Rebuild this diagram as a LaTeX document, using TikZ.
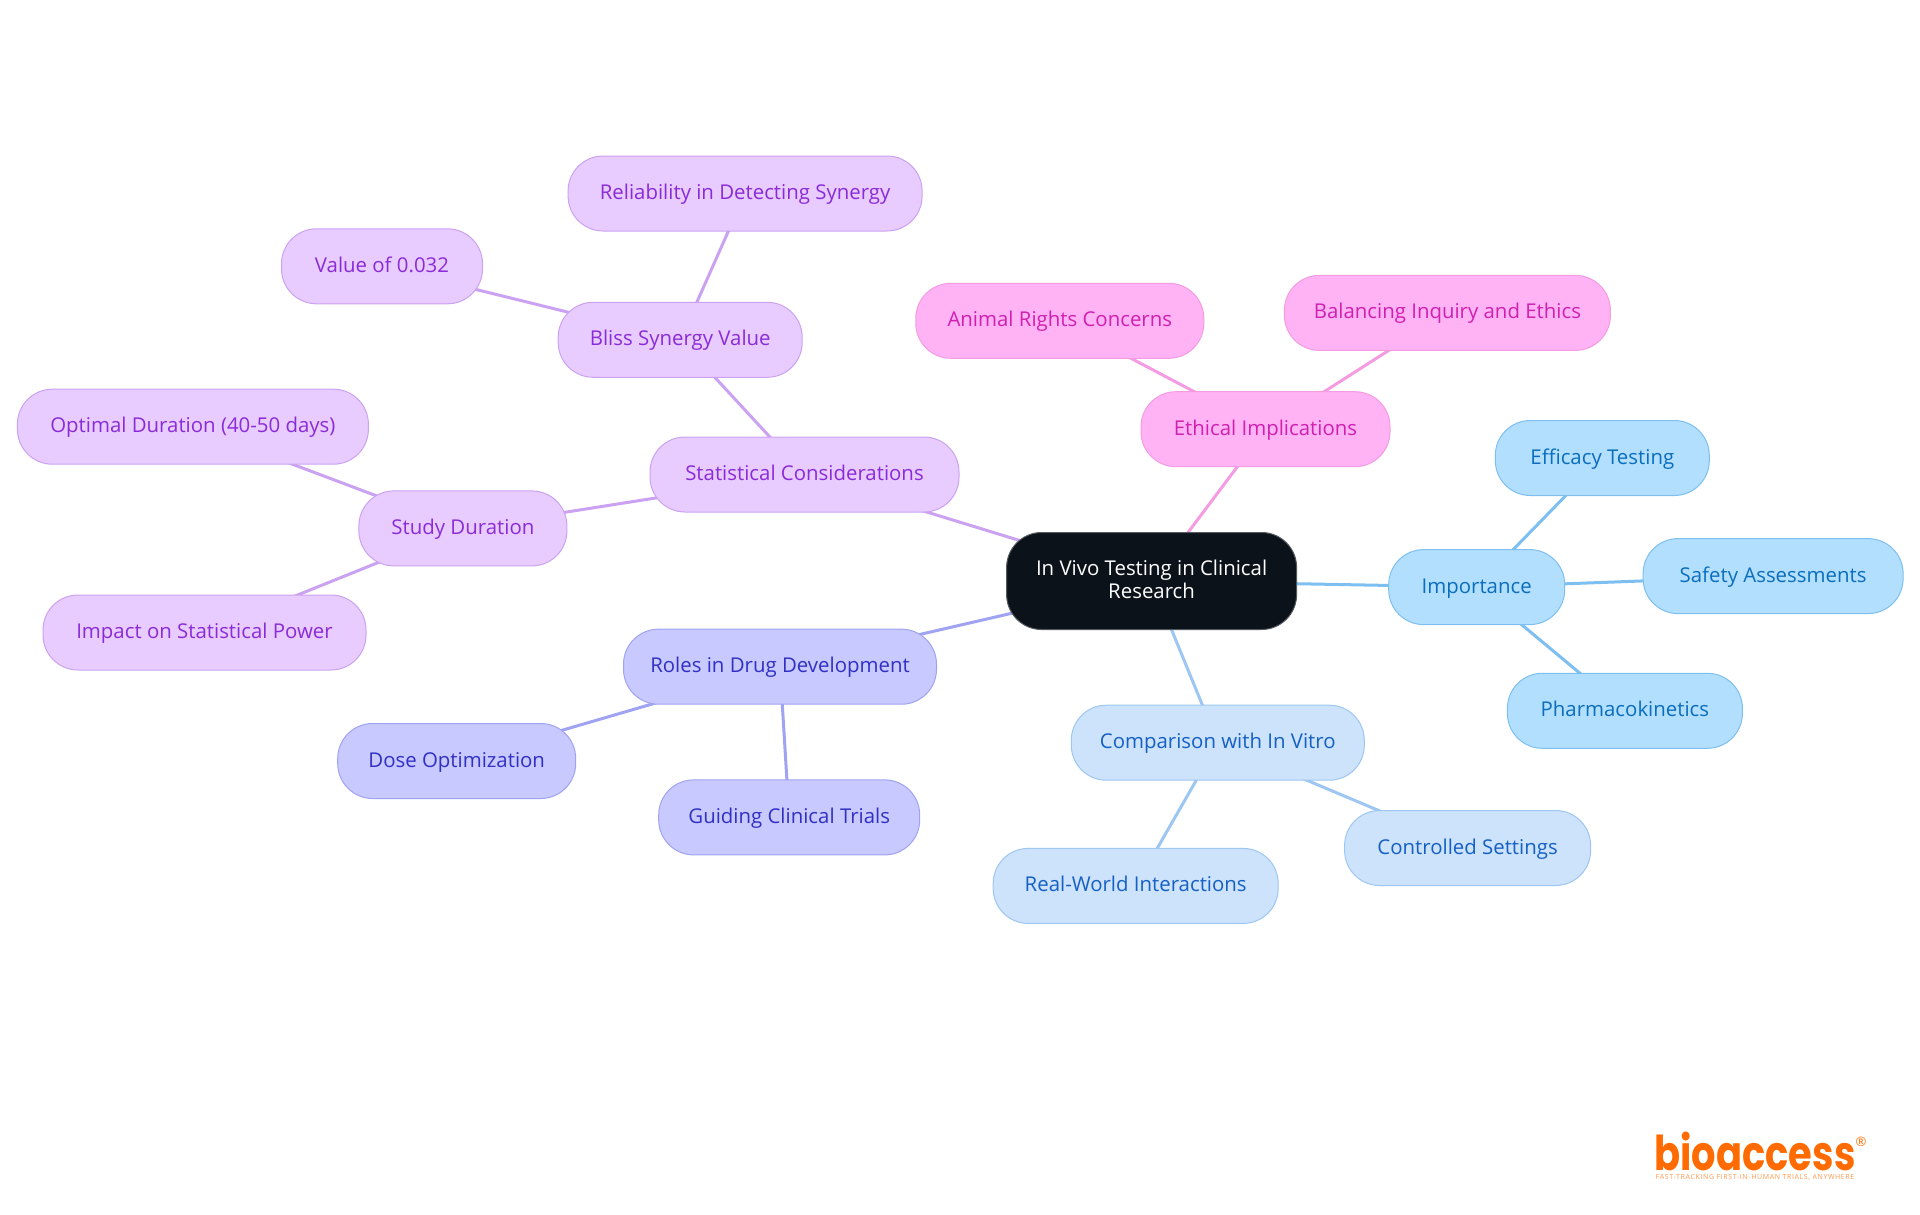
\documentclass[tikz,border=0pt]{standalone}
\usepackage{fontspec}
\setmainfont{Open Sans}
\newfontfamily\logofont{Poppins}[BoldFont={Poppins Bold}]
\usetikzlibrary{backgrounds}
\definecolor{rootfill}{HTML}{0B1219}
\definecolor{impfill}{HTML}{B3DFFF}
\definecolor{impline}{HTML}{7DBFF0}
\definecolor{imptext}{HTML}{0A6EBD}
\definecolor{cmpfill}{HTML}{CDE3FC}
\definecolor{cmpline}{HTML}{9DC6F2}
\definecolor{cmptext}{HTML}{1560C4}
\definecolor{rolfill}{HTML}{C8CAFF}
\definecolor{rolline}{HTML}{A0A2F2}
\definecolor{roltext}{HTML}{3030C4}
\definecolor{stafill}{HTML}{E8CCFF}
\definecolor{staline}{HTML}{CBA2F2}
\definecolor{statext}{HTML}{8A2BD8}
\definecolor{ethfill}{HTML}{FFB3F5}
\definecolor{ethline}{HTML}{F49BE2}
\definecolor{ethtext}{HTML}{D020B0}
\definecolor{logoorange}{HTML}{FF6B00}
\tikzset{
  box/.style={draw,rounded corners=35,inner sep=0,minimum height=75,line width=1,
    align=center,font=\fontsize{20.4}{23}\selectfont},
  leafbox/.style={box,text height=16,text depth=4},
  rootbox/.style={box,fill=rootfill,draw=rootfill!70!white,text=white,minimum height=97,text depth=4},
  impbox/.style={leafbox,fill=impfill,draw=impline,text=imptext},
  cmpbox/.style={leafbox,fill=cmpfill,draw=cmpline,text=cmptext},
  rolbox/.style={leafbox,fill=rolfill,draw=rolline,text=roltext},
  stabox/.style={leafbox,fill=stafill,draw=staline,text=statext},
  ethbox/.style={leafbox,fill=ethfill,draw=ethline,text=ethtext},
  link/.style={line width=3}
}
\begin{document}
\begin{tikzpicture}[x=1pt,y=-1pt]
  \useasboundingbox (0,0) rectangle (1920,1215);

  \node[rootbox,minimum width=290] (root) at (1151.6,581) {In Vivo Testing in Clinical\\Research};

  \node[impbox,minimum width=176] (importance) at (1476.7,587.1) {Importance};
  \node[impbox,minimum width=214] (efficacy) at (1602.3,458) {Efficacy Testing};
  \node[impbox,minimum width=260] (safety) at (1773.1,576.1) {Safety Assessments};
  \node[impbox,minimum width=235] (pharma) at (1624.9,710.8) {Pharmacokinetics};

  \node[cmpbox,minimum width=293] (comparison) at (1217.8,742.7) {Comparison with In Vitro};
  \node[cmpbox,minimum width=246] (controlled) at (1467.6,848) {Controlled Settings};
  \node[cmpbox,minimum width=285] (realworld) at (1135.7,885.9) {Real-World Interactions};

  \node[rolbox,minimum width=313] (roles) at (780,666.7) {Roles in Drug Development};
  \node[rolbox,minimum width=238] (dose) at (456.7,761) {Dose Optimization};
  \node[rolbox,minimum width=261] (guiding) at (789.2,817.4) {Guiding Clinical Trials};

  \node[stabox,minimum width=309] (statistical) at (804.5,474.5) {Statistical Considerations};
  \node[stabox,minimum width=208] (study) at (462.9,528.4) {Study Duration};
  \node[stabox,minimum width=351] (optimal) at (192.9,426.7) {Optimal Duration (40-50 days)};
  \node[stabox,minimum width=323] (impact) at (204.5,632.5) {Impact on Statistical Power};
  \node[stabox,minimum width=244] (bliss) at (680.2,339.8) {Bliss Synergy Value};
  \node[stabox,minimum width=201] (value) at (382,266.3) {Value of 0.032};
  \node[stabox,minimum width=354] (reliability) at (745.1,193.5) {Reliability in Detecting Synergy};

  \node[ethbox,minimum width=249] (ethical) at (1265.5,429.2) {Ethical Implications};
  \node[ethbox,minimum width=288] (animal) at (1059.8,320.8) {Animal Rights Concerns};
  \node[ethbox,minimum width=326] (balancing) at (1447.4,312.9) {Balancing Inquiry and Ethics};

  \begin{pgfonlayer}{background}
    \draw[link,impline] (root.center) -- (importance.center);
    \draw[link,impline] (importance.center) -- (efficacy.center);
    \draw[link,impline] (importance.center) -- (safety.center);
    \draw[link,impline] (importance.center) -- (pharma.center);
    \draw[link,cmpline] (root.center) -- (comparison.center);
    \draw[link,cmpline] (comparison.center) -- (controlled.center);
    \draw[link,cmpline] (comparison.center) -- (realworld.center);
    \draw[link,rolline] (root.center) -- (roles.center);
    \draw[link,rolline] (roles.center) -- (dose.center);
    \draw[link,rolline] (roles.center) -- (guiding.center);
    \draw[link,staline] (root.center) -- (statistical.center);
    \draw[link,staline] (statistical.center) -- (study.center);
    \draw[link,staline] (study.center) -- (optimal.center);
    \draw[link,staline] (study.center) -- (impact.center);
    \draw[link,staline] (statistical.center) -- (bliss.center);
    \draw[link,staline] (bliss.center) -- (value.center);
    \draw[link,staline] (bliss.center) -- (reliability.center);
    \draw[link,ethline] (root.center) -- (ethical.center);
    \draw[link,ethline] (ethical.center) -- (animal.center);
    \draw[link,ethline] (ethical.center) -- (balancing.center);
  \end{pgfonlayer}

  % logo
  \node[inner sep=0,text=logoorange,font=\logofont\bfseries\fontsize{48}{48}\selectfont] (logo) at (1755,1151) {\scalebox{.8}[1]{bioaccess}};
  \node[inner sep=0,text=logoorange,font=\fontsize{13}{13}\selectfont] (mark) at (1861,1142) {®};
  \node[inner sep=0,text=logoorange!70!white,font=\fontsize{7}{7}\selectfont\addfontfeatures{LetterSpace=9}] (tagline) at (1755,1177) {FAST-TRACKING FIRST-IN-HUMAN TRIALS, ANYWHERE};
\end{tikzpicture}
\end{document}
